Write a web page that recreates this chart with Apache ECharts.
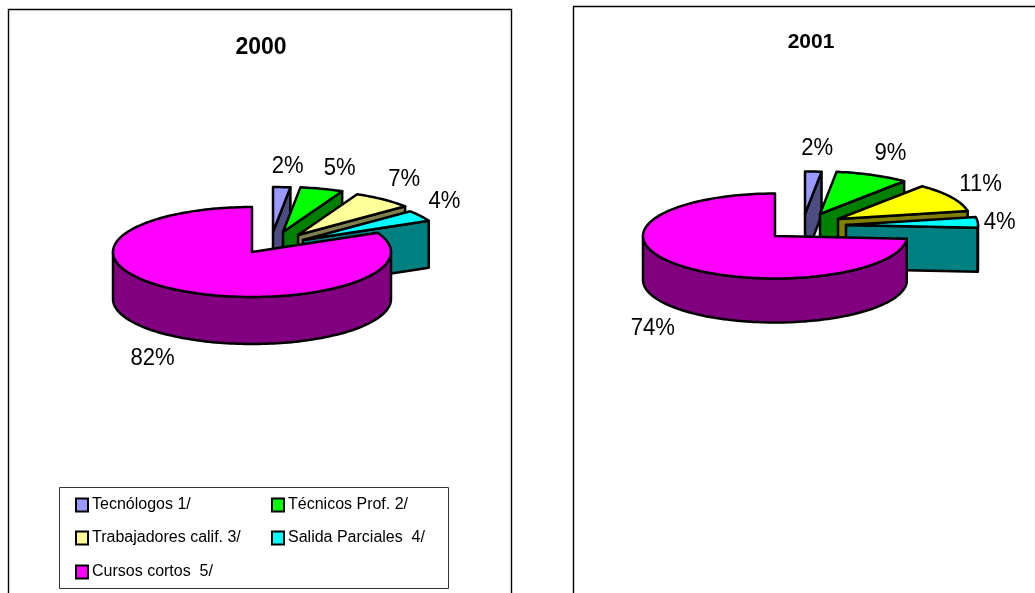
<!DOCTYPE html>
<html><head><meta charset="utf-8">
<style>html,body{margin:0;padding:0;background:#fff;overflow:hidden}#c{width:1035px;height:593px}</style>
<script src="https://cdn.jsdelivr.net/npm/echarts@6/dist/echarts.min.js"></script>
</head><body><div id="c"></div>
<script>
const categories = ['Tecnólogos 1/', 'Técnicos Prof. 2/', 'Trabajadores calif. 3/', 'Salida Parciales  4/', 'Cursos cortos  5/'];
const values2000 = [2, 5, 7, 4, 82];
const values2001 = [2, 9, 11, 4, 74];
const years = ['2000', '2001'];

const topColors2000 = ['#9999FF', '#00FF00', '#FFFF99', '#00FFFF', '#FF00FF'];
const sideColors2000 = ['#4C4C80', '#008000', '#80804C', '#008080', '#800080'];
const topColors2001 = ['#9999FF', '#00FF00', '#FFFF00', '#00FFFF', '#FF00FF'];
const sideColors2001 = ['#4C4C80', '#008000', '#808000', '#008080', '#800080'];

const pie2000 = {
  values: values2000, top: topColors2000, side: sideColors2000,
  cx: 252, cy: 252, rx: 139, ry: 45, depth: 47,
  explode: [[21, -20], [31, -20], [46, -17], [51, -12], [0, 0]],
  labelNudge: [[6, -20], [18, -20], [21, -20], [24, -14], [-25, 69]]
};
const pie2001 = {
  values: values2001, top: topColors2001, side: sideColors2001,
  cx: 775, cy: 236, rx: 132, ry: 42.5, depth: 44,
  explode: [[30, -22], [45, -22], [63, -17], [71, -11], [0, 0]],
  labelNudge: [[4, -23], [18, -21], [29, -13], [22, 0], [-26, 64]]
};

const LINE = '#000';
const LW = 2.5;
const LABEL_FONT = '23px "Liberation Sans", Arial, sans-serif';

function sliceSeries(pie, idx) {
  const total = pie.values.reduce((a, b) => a + b, 0);
  const startPct = pie.values.slice(0, idx).reduce((a, b) => a + b, 0);
  return {
    type: 'custom',
    name: categories[idx],
    coordinateSystem: 'none',
    itemStyle: { color: pie.top[idx] },
    silent: true,
    z: 2,
    data: [[pie.values[idx]]],
    renderItem: function (params, api) {
      const v = api.value(0);
      const a0 = startPct / total * 360;
      const a1 = (startPct + v) / total * 360;
      const ax = pie.cx + pie.explode[idx][0];
      const ay = pie.cy + pie.explode[idx][1];
      const pt = (deg, dy) => {
        const r = deg * Math.PI / 180;
        return [ax + pie.rx * Math.sin(r), ay - pie.ry * Math.cos(r) + (dy || 0)];
      };
      const arc = (from, to, dy) => {
        const pts = [];
        const n = Math.max(2, Math.ceil((to - from) / 1.5));
        for (let i = 0; i <= n; i++) pts.push(pt(from + (to - from) * i / n, dy));
        return pts;
      };
      const style = (fill) => ({ fill: fill, stroke: LINE, lineWidth: LW, lineJoin: 'round' });
      const children = [];
      // radial wall on the closing edge, visible when that edge faces the viewer
      if (a1 < 180) {
        const e = pt(a1, 0), e2 = pt(a1, pie.depth);
        children.push({ type: 'polygon', shape: { points: [[ax, ay], e, e2, [ax, ay + pie.depth]] }, style: style(pie.side[idx]) });
      }
      // rim wall for the front half of the ellipse
      const w0 = Math.max(a0, 90), w1 = Math.min(a1, 270);
      if (w1 > w0) {
        const upper = arc(w0, w1, 0);
        const lower = arc(w0, w1, pie.depth).reverse();
        children.push({ type: 'polygon', shape: { points: upper.concat(lower) }, style: style(pie.side[idx]) });
      }
      // top face
      children.push({ type: 'polygon', shape: { points: [[ax, ay]].concat(arc(a0, a1, 0)) }, style: style(pie.top[idx]) });
      // percentage label
      const mid = pt((a0 + a1) / 2, 0);
      children.push({
        type: 'text', z2: 50,
        x: mid[0] + pie.labelNudge[idx][0], y: mid[1] + pie.labelNudge[idx][1], scaleX: 0.96,
        style: {
          text: v + '%', x: 0, y: 0,
          textAlign: 'center', textVerticalAlign: 'middle', font: LABEL_FONT, fill: '#000'
        }
      });
      return { type: 'group', children: children };
    }
  };
}

const series = [];
[pie2000, pie2001].forEach(p => categories.forEach((c, i) => series.push(sliceSeries(p, i))));

const legendLayout = [[75, 497], [271, 497], [75, 530], [271, 530], [75, 564]];
const legends = categories.map((c, i) => ({
  data: [c], left: legendLayout[i][0], top: legendLayout[i][1],
  orient: 'horizontal', padding: 0, itemWidth: 12, itemHeight: 13, itemGap: 0,
  selectedMode: false, icon: 'rect',
  itemStyle: { borderColor: '#000', borderWidth: 2 },
  textStyle: { fontFamily: '"Liberation Sans", Arial, sans-serif', fontSize: 16, color: '#000', padding: [0, 0, 0, -1] }
}));

const panelLine = { stroke: '#000', lineWidth: 1.4 };
const option = {
  backgroundColor: '#fff',
  animation: false,
  title: [
    { text: years[0], left: 256, top: 31, textAlign: 'center', textStyle: { fontFamily: '"Liberation Sans", Arial, sans-serif', fontSize: 23, fontWeight: 'bold', color: '#000' } },
    { text: years[1], left: 806, top: 27, textAlign: 'center', textStyle: { fontFamily: '"Liberation Sans", Arial, sans-serif', fontSize: 21, fontWeight: 'bold', color: '#000' } }
  ],
  legend: legends,
  graphic: [
    { type: 'polyline', z: 0, shape: { points: [[8.5, 593], [8.5, 9.5], [511.5, 9.5], [511.5, 593]] }, style: Object.assign({ fill: null }, panelLine) },
    { type: 'polyline', z: 0, shape: { points: [[573.5, 593], [573.5, 6.5], [1035, 6.5]] }, style: Object.assign({ fill: null }, panelLine) },
    { type: 'rect', z: 0, shape: { x: 59.5, y: 487.5, width: 389, height: 101 }, style: { fill: '#fff', stroke: '#333', lineWidth: 1 } }
  ],
  series: series
};
echarts.init(document.getElementById('c'), null, { renderer: 'canvas' }).setOption(option);
</script>
</body></html>
